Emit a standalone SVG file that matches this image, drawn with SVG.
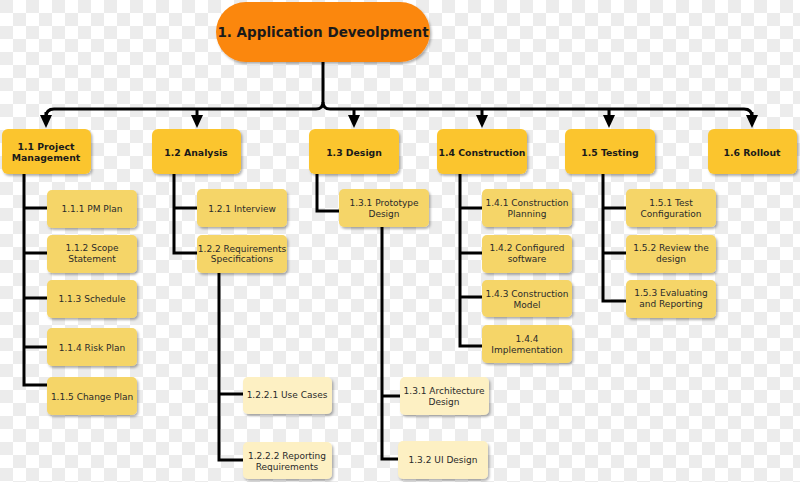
<svg xmlns="http://www.w3.org/2000/svg" width="800" height="482" viewBox="0 0 800 482">
<defs>
<pattern id="chk" width="26" height="26" patternUnits="userSpaceOnUse">
<rect width="26" height="26" fill="#ffffff"/>
<rect width="13" height="13" fill="#ececec"/>
<rect x="13" y="13" width="13" height="13" fill="#ececec"/>
</pattern>
<marker id="ah" viewBox="0 0 13 12" refX="3" refY="6" markerWidth="13" markerHeight="12" markerUnits="userSpaceOnUse" orient="auto">
<path d="M0,0 L13,6 L0,12 Z" fill="#000"/>
</marker>
<filter id="sh" x="-10%" y="-10%" width="130%" height="140%">
<feDropShadow dx="1.5" dy="2" stdDeviation="1.2" flood-color="#000" flood-opacity="0.3"/>
</filter>
</defs>
<style>
.l1{fill:#fbc52e;filter:url(#sh)}
.l2{fill:#f5d567;filter:url(#sh)}
.l3{fill:#fdf0c3;filter:url(#sh)}
.root{fill:#fb8711;filter:url(#sh)}
text{font-family:"DejaVu Sans","Verdana",sans-serif;fill:#2a2a2a;text-anchor:middle}
.t0{font-size:13.5px;font-weight:bold;fill:#1a1a1a}
.t1{font-size:9.3px;font-weight:bold;fill:#1a1a1a}
.t2{font-size:9px}
.c{fill:none;stroke:#000;stroke-width:3}
.a{fill:none;stroke:#000;stroke-width:3;marker-end:url(#ah)}
</style>
<rect width="800" height="482" fill="url(#chk)"/>

<g id="connectors">
<path class="c" d="M323,62 V102 Q323,109 316,109 H54 Q46,109 46,117"/>
<path class="c" d="M323,102 Q323,109 330,109 H744 Q752,109 752,117"/>
<path class="a" d="M46,112 V118"/>
<path class="a" d="M197,109 V118"/>
<path class="a" d="M354,109 V118"/>
<path class="a" d="M482,109 V118"/>
<path class="a" d="M609,109 V118"/>
<path class="a" d="M752,112 V118"/>
<path class="c" d="M24,174 V385 H47 M24,208 H47 M24,253 H47 M24,298 H47 M24,347 H47"/>
<path class="c" d="M174,174 V253 H197 M174,208 H197"/>
<path class="c" d="M219,273 V460 H243 M219,394 H243"/>
<path class="c" d="M317,174 V211 H339"/>
<path class="c" d="M382,227 V459 H400 M382,396 H400"/>
<path class="c" d="M460,174 V346 H482 M460,208 H482 M460,253 H482 M460,297 H482"/>
<path class="c" d="M603,174 V301 H626 M603,208 H626 M603,253 H626"/>
</g>

<g id="n1"><rect class="root" x="216" y="2" width="214" height="60" rx="30"/><text class="t0" x="323" y="37">1. Application Deveolpment</text></g>

<g id="n1_1"><rect class="l1" x="2" y="129" width="89" height="45" rx="6"/><text class="t1" x="46" y="150">1.1 Project</text><text class="t1" x="46" y="161">Management</text></g>
<g id="n1_2"><rect class="l1" x="152" y="129" width="89" height="45" rx="6"/><text class="t1" x="196" y="156">1.2 Analysis</text></g>
<g id="n1_3"><rect class="l1" x="309" y="129" width="90" height="45" rx="6"/><text class="t1" x="354" y="156">1.3 Design</text></g>
<g id="n1_4"><rect class="l1" x="437" y="129" width="90" height="45" rx="6"/><text class="t1" x="482" y="156">1.4 Construction</text></g>
<g id="n1_5"><rect class="l1" x="565" y="129" width="90" height="45" rx="6"/><text class="t1" x="610" y="156">1.5 Testing</text></g>
<g id="n1_6"><rect class="l1" x="708" y="129" width="89" height="45" rx="6"/><text class="t1" x="752" y="156">1.6 Rollout</text></g>

<g id="n1_1_1"><rect class="l2" x="47" y="190" width="90" height="38" rx="5"/><text class="t2" x="92" y="212">1.1.1 PM Plan</text></g>
<g id="n1_1_2"><rect class="l2" x="47" y="235" width="90" height="38" rx="5"/><text class="t2" x="92" y="251">1.1.2 Scope</text><text class="t2" x="92" y="262">Statement</text></g>
<g id="n1_1_3"><rect class="l2" x="47" y="280" width="90" height="38" rx="5"/><text class="t2" x="92" y="302">1.1.3 Schedule</text></g>
<g id="n1_1_4"><rect class="l2" x="47" y="328" width="90" height="38" rx="5"/><text class="t2" x="92" y="351">1.1.4 Risk Plan</text></g>
<g id="n1_1_5"><rect class="l2" x="47" y="377" width="90" height="38" rx="5"/><text class="t2" x="92" y="400">1.1.5 Change Plan</text></g>

<g id="n1_2_1"><rect class="l2" x="197" y="189" width="90" height="38" rx="5"/><text class="t2" x="242" y="212">1.2.1 Interview</text></g>
<g id="n1_2_2"><rect class="l2" x="197" y="235" width="90" height="38" rx="5"/><text class="t2" x="242" y="252">1.2.2 Requirements</text><text class="t2" x="242" y="262">Specifications</text></g>
<g id="n1_2_2_1"><rect class="l3" x="243" y="377" width="89" height="37" rx="5"/><text class="t2" x="287" y="398">1.2.2.1 Use Cases</text></g>
<g id="n1_2_2_2"><rect class="l3" x="243" y="442" width="89" height="37" rx="5"/><text class="t2" x="287" y="459">1.2.2.2 Reporting</text><text class="t2" x="287" y="470">Requirements</text></g>

<g id="n1_3_1"><rect class="l2" x="339" y="189" width="90" height="38" rx="5"/><text class="t2" x="384" y="206">1.3.1 Prototype</text><text class="t2" x="384" y="217">Design</text></g>
<g id="n1_3_1a"><rect class="l3" x="400" y="377" width="89" height="38" rx="5"/><text class="t2" x="444" y="394">1.3.1 Architecture</text><text class="t2" x="444" y="405">Design</text></g>
<g id="n1_3_2"><rect class="l3" x="398" y="441" width="90" height="38" rx="5"/><text class="t2" x="443" y="463">1.3.2 UI Design</text></g>

<g id="n1_4_1"><rect class="l2" x="482" y="189" width="90" height="38" rx="5"/><text class="t2" x="527" y="206">1.4.1 Construction</text><text class="t2" x="527" y="217">Planning</text></g>
<g id="n1_4_2"><rect class="l2" x="482" y="235" width="90" height="38" rx="5"/><text class="t2" x="527" y="251">1.4.2 Configured</text><text class="t2" x="527" y="262">software</text></g>
<g id="n1_4_3"><rect class="l2" x="482" y="280" width="90" height="37" rx="5"/><text class="t2" x="527" y="297">1.4.3 Construction</text><text class="t2" x="527" y="308">Model</text></g>
<g id="n1_4_4"><rect class="l2" x="482" y="325" width="90" height="38" rx="5"/><text class="t2" x="527" y="342">1.4.4</text><text class="t2" x="527" y="353">Implementation</text></g>

<g id="n1_5_1"><rect class="l2" x="626" y="189" width="90" height="38" rx="5"/><text class="t2" x="671" y="206">1.5.1 Test</text><text class="t2" x="671" y="217">Configuration</text></g>
<g id="n1_5_2"><rect class="l2" x="626" y="235" width="90" height="38" rx="5"/><text class="t2" x="671" y="251">1.5.2 Review the</text><text class="t2" x="671" y="262">design</text></g>
<g id="n1_5_3"><rect class="l2" x="626" y="280" width="90" height="38" rx="5"/><text class="t2" x="671" y="296">1.5.3 Evaluating</text><text class="t2" x="671" y="307">and Reporting</text></g>
</svg>
